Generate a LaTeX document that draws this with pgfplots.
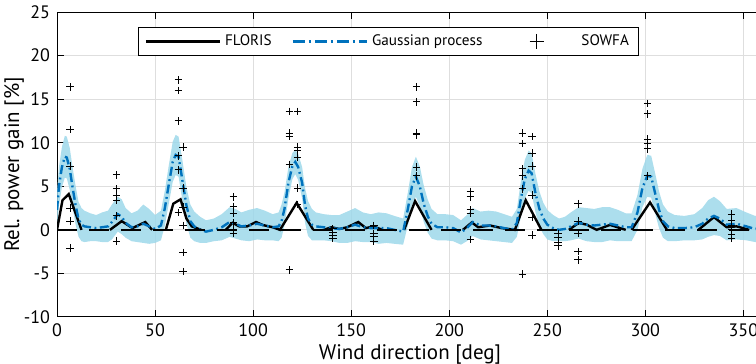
\documentclass[border=0pt]{standalone}
\usepackage{pgfplots}
\pgfplotsset{compat=1.18}
\usepackage{pgfplotstable}
\usepgfplotslibrary{fillbetween}
\usepackage{fontspec}
\setmainfont{PT Sans}
\definecolor{gpblue}{RGB}{0,114,189}
\definecolor{bandcol}{RGB}{157,216,234}
\definecolor{gridcol}{RGB}{222,222,222}

\pgfplotstableread{
x m lo hi
0 2.3 0.2 4.4
1 5.0 2.8 7.2
2.5 7.2 4.9 9.5
4 8.4 6.0 10.8
5 8.3 5.9 10.7
6.5 7.0 4.6 9.4
8 4.8 2.5 7.1
9.5 2.8 0.6 5.0
11 1.2 -0.8 3.2
12.5 0.6 -1.3 2.5
14 0.4 -1.4 2.2
17 0.3 -1.3 1.9
20 0.2 -1.3 1.7
23 0.3 -1.4 2.0
26 0.4 -1.4 2.2
28 0.9 -1.1 2.9
31 1.8 -0.2 3.8
33 1.5 -0.5 3.5
35 0.8 -0.9 2.5
38 0.3 -1.3 1.9
41 0.4 -1.4 2.2
44 0.7 -1.5 2.9
47 0.4 -1.6 2.4
50 0.1 -1.5 1.7
53 0.5 -1.2 2.2
55 2.5 0.5 4.5
57 5.2 3.0 7.4
59 7.8 5.5 10.1
60.5 8.6 6.3 10.9
62 8.4 6.1 10.7
64 5.6 3.3 7.9
66 2.8 0.7 4.9
68 1.0 -0.9 2.9
70 0.4 -1.3 2.1
73 0.0 -1.5 1.5
76 -0.2 -1.5 1.1
80 0.0 -1.3 1.3
84 0.3 -1.2 1.8
88 0.9 -0.8 2.6
91 0.7 -1.0 2.4
94 0.4 -1.2 2.0
98 0.5 -1.3 2.3
102 0.7 -1.1 2.5
106 0.5 -1.2 2.2
110 0.3 -1.2 1.8
113 0.4 -1.3 2.0
114.5 1.0 -0.9 2.9
116 2.4 0.5 4.3
118 5.4 3.6 7.2
120 7.3 5.8 8.8
121.5 7.8 6.4 9.2
123 7.2 5.7 8.7
125 5.4 3.6 7.2
126.5 2.8 0.8 4.8
128 1.3 -0.7 3.3
130 0.6 -1.2 2.4
132 0.4 -1.2 2.0
136 0.3 -1.2 1.8
140 0.2 -1.3 1.7
144 0.1 -1.5 1.7
148 0.3 -1.5 2.1
152 0.6 -1.3 2.5
156 0.3 -1.4 2.0
160 0.2 -1.4 1.8
164 0.2 -1.6 2.0
168 0.2 -1.5 1.9
172 0.0 -1.6 1.6
176.5 -0.2 -1.7 1.3
179 2.5 0.6 4.4
181 5.0 2.8 7.2
183 6.1 3.8 8.4
185 5.0 2.7 7.3
187 3.0 0.9 5.1
189 1.6 -0.3 3.5
191 0.7 -1.0 2.4
194 0.3 -1.2 1.8
198 0.3 -1.2 1.8
202 0.2 -1.3 1.7
206 -0.3 -1.7 1.1
209 0.2 -1.3 1.7
212 0.9 -0.7 2.5
216 0.5 -1.1 2.1
220 0.5 -1.2 2.2
224 0.4 -1.3 2.1
228 0.2 -1.4 1.8
232 0.0 -1.5 1.5
234.5 0.8 -0.8 2.4
236.5 3.5 1.5 5.5
238.5 5.8 3.6 8.0
240.5 6.8 4.5 9.1
242 6.5 4.2 8.8
244 4.2 2.0 6.4
246 2.4 0.4 4.4
248 1.3 -0.5 3.1
250 0.6 -1.1 2.3
253 0.2 -1.3 1.7
256 0.0 -1.3 1.3
259 0.1 -1.3 1.5
262 0.4 -1.2 2.0
266 0.8 -1.0 2.6
270 0.6 -1.3 2.5
274 0.5 -1.4 2.4
278 0.6 -1.4 2.6
282 0.7 -1.2 2.6
286 0.5 -1.3 2.3
290 0.3 -1.3 1.9
293 0.3 -1.3 1.9
296 2.0 0.0 4.0
298.5 4.8 2.6 7.0
301 6.2 3.8 8.6
303 6.1 3.7 8.5
305 4.2 1.9 6.5
307 2.3 0.2 4.4
309 1.0 -0.9 2.9
311.5 0.4 -1.3 2.1
315 0.2 -1.3 1.7
320 0.2 -1.2 1.6
325 0.3 -1.2 1.8
329 0.7 -1.1 2.5
332 1.3 -0.8 3.4
335 1.6 -0.6 3.8
338 1.3 -0.7 3.3
341.5 0.6 -1.2 2.4
346.5 0.7 -1.1 2.5
351.5 0.4 -1.2 2.0
356 0.1 -1.4 1.6
360 0.2 -1.4 1.8
}\gp

\pgfplotstableread{
x y
0 0
2.8 3.4
6 4.1
9 2.2
12.5 0
nan nan
27 0
33 1.0
38.5 0.2
45 0.9
48.5 0
nan nan
55.5 0
59.3 3.0
63 3.5
66 1.3
68.7 0.4
73.5 0
nan nan
86 0
89.5 0.8
93 0.4
97 0.4
101.5 0.9
105 0.55
110 0.3
113.7 0
122.2 3.1
130.7 0
nan nan
136 0
140 0.3
144 0.1
148 0.3
153.6 0.9
157.5 0.2
161.3 0.4
166 0
nan nan
177 0
182.6 3.3
191 0
nan nan
207 0
211.5 0.85
214.8 0.3
220.8 0.5
226.8 0.2
233.5 0
239 3.4
247 0
nan nan
261 0
266 0.8
270 0.6
275.2 0
282 0.57
290 0
nan nan
293 0
302.4 3.15
311 0
nan nan
327 0
335 1.46
341.5 0.3
346.5 0.4
353 0
}\floris

\pgfplotstableread{
x y
6.7 16.4
6.7 11.5
6.7 7.3
6.7 2.5
6.7 1.0
6.7 -2.1
30.4 6.3
30.4 4.7
30.4 4.0
30.4 3.4
30.4 1.6
30.4 -1.3
61.9 17.2
61.9 16.0
61.9 12.5
61.9 8.5
61.9 6.9
61.9 2.0
64.4 9.5
64.4 4.8
64.4 2.6
64.4 0.5
64.4 -2.6
64.4 -4.8
89.9 3.8
89.9 2.7
89.9 1.9
89.9 0.8
89.9 0.0
89.9 -0.4
118.5 13.6
118.5 11.1
118.5 10.7
118.5 7.5
118.5 -4.6
122.7 13.6
122.7 9.5
122.7 9.1
122.7 8.3
122.7 4.8
122.7 2.9
140.6 0.1
140.6 -0.3
140.6 -0.6
140.6 -0.95
161.5 0.5
161.5 -0.4
161.5 -0.8
161.5 -1.3
183.4 16.4
183.4 14.7
183.4 11.1
183.4 10.9
183.4 7.2
183.4 6.2
210.8 4.4
210.8 3.8
210.8 2.3
210.8 1.9
210.8 -1.1
237.3 11.1
237.3 9.9
237.3 7.0
237.3 6.2
237.3 4.7
237.3 -5.1
242.3 10.7
242.3 8.8
242.3 7.3
242.3 4.0
242.3 1.4
242.3 -0.6
255.5 -0.4
255.5 -0.9
255.5 -1.4
255.5 -1.85
265.8 3.0
265.8 1.0
265.8 -0.4
265.8 -2.5
265.8 -3.44
301.2 14.5
301.2 13.3
301.2 10.4
301.2 9.9
301.2 9.3
301.2 6.2
344 1.8
344 1.1
344 0.5
344 0.0
344 -0.5
344 -1.0
}\sowfa

\begin{document}
\begin{tikzpicture}
\begin{axis}[
  name=ax,
  scale only axis,
  width=353pt, height=152.5pt,
  xmin=0, xmax=360, ymin=-10, ymax=25,
  xtick={0,50,...,350}, ytick={-10,-5,...,25},
  tick align=inside,
  major tick length=3.5pt,
  xtick pos=both, ytick pos=both,
  grid=major,
  major grid style={gridcol, line width=0.5pt},
  axis line style={black, line width=0.5pt},
  every tick/.style={black, line width=0.5pt},
  /pgf/number format/assume math mode=true,
  tick label style={font=\fontsize{9}{10}\selectfont},
  label style={font=\fontsize{10.5}{12}\selectfont},
  xlabel={Wind direction [deg]},
  ylabel={Rel. power gain [\%]},
  xlabel style={yshift=3pt},
  ylabel style={at={(axis description cs:-0.061,0.5)}, anchor=center},
  unbounded coords=jump,
  legend columns=3,
  legend style={
    at={(0.47,0.951)}, anchor=north,
    draw=black, line width=0.5pt, fill=white,
    font=\fontsize{7.6}{9}\selectfont,
    inner xsep=3pt, inner ysep=1.5pt,
    /tikz/every even column/.append style={column sep=8pt},
  },
  legend cell align=left,
]
\addplot[name path=up, draw=none, forget plot] table[x=x, y=hi] {\gp};
\addplot[name path=dn, draw=none, forget plot] table[x=x, y=lo] {\gp};
\addplot[fill=bandcol, fill opacity=0.85, draw=none, forget plot] fill between[of=up and dn];

\addplot[black, line width=1.2pt,
  legend image code/.code={\draw[black, line width=1.2pt] (0pt,0pt) -- (37pt,0pt);}]
  table[x=x, y=y] {\floris};
\addlegendentry{FLORIS}

\addplot[gpblue, line width=1.2pt, dash pattern=on 4.5pt off 1.8pt on 0.9pt off 1.8pt,
  legend image code/.code={\draw[gpblue, line width=1.2pt, dash pattern=on 6pt off 2pt on 1pt off 2pt] (0pt,0pt) -- (37pt,0pt);}]
  table[x=x, y=m] {\gp};
\addlegendentry{Gaussian process}

\addplot[black, line width=1.2pt, dash pattern=on 10pt off 6pt, forget plot]
  coordinates {(0,0) (360,0)};

\addplot[only marks, mark=+, mark size=1.9pt, black, mark options={line width=0.5pt},
  legend image code/.code={\path (0pt,0pt) (37pt,0pt); \draw[black, line width=0.5pt] plot[mark=+, mark size=3.7pt] coordinates {(17pt,0pt)};}]
  table[x=x, y=y] {\sowfa};
\addlegendentry{SOWFA}
\end{axis}
\pgfresetboundingbox
\path[use as bounding box] ([shift={(-28.5pt,-23.5pt)}]ax.south west) rectangle ([shift={(349.5pt,158.5pt)}]ax.south west);
\end{tikzpicture}
\end{document}
